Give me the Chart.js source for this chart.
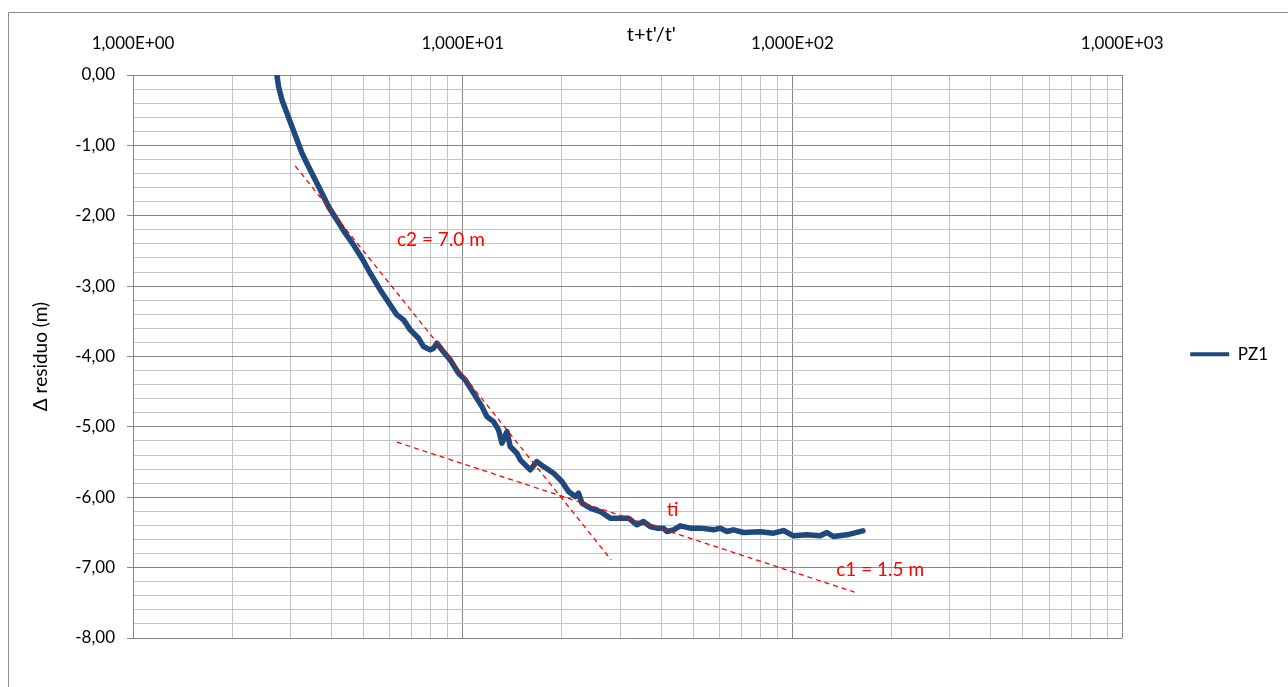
<!DOCTYPE html>
<html>
<head>
<meta charset="utf-8">
<script src="https://cdn.jsdelivr.net/npm/chart.js@4/dist/chart.umd.min.js"></script>
<style>
  html, body { margin: 0; padding: 0; background: #fff; }
  #wrap { position: relative; width: 1288px; height: 687px; }
  canvas { display: block; }
</style>
</head>
<body>
<div id="wrap"><canvas id="c" width="1288" height="687"></canvas></div>
<script>
// ---- data ----
const pz1X = [2.732, 2.764, 2.830, 2.931, 3.035, 3.144, 3.255, 3.409, 3.572, 3.742,
  3.919, 4.155, 4.403, 4.666, 4.947, 5.243, 5.622, 6.029, 6.317, 6.615,
  6.932, 7.343, 7.604, 7.968, 8.154, 8.350, 8.648, 9.165, 9.711, 10.18,
  10.78, 11.44, 11.84, 12.40, 12.84, 13.15, 13.62, 13.93, 14.60, 14.94,
  16.02, 16.79, 17.58, 18.86, 19.99, 20.93, 21.94, 22.45, 22.99, 24.36,
  26.12, 28.01, 30.03, 31.82, 33.75, 35.34, 37.03, 38.80, 40.63, 41.61,
  43.58, 45.66, 48.95, 52.49, 57.62, 60.37, 63.26, 66.24, 71.03, 79.81,
  87.58, 93.91, 100.7, 110.6, 121.3, 127.2, 133.1, 146.2, 163.5];
const pz1Y = [0.000, -0.166, -0.355, -0.544, -0.734, -0.923, -1.112, -1.303, -1.491, -1.680,
  -1.871, -2.060, -2.249, -2.415, -2.604, -2.817, -3.054, -3.267, -3.409, -3.480,
  -3.622, -3.740, -3.859, -3.906, -3.882, -3.811, -3.906, -4.048, -4.237, -4.332,
  -4.521, -4.712, -4.854, -4.925, -5.043, -5.232, -5.067, -5.280, -5.374, -5.469,
  -5.611, -5.493, -5.564, -5.658, -5.777, -5.919, -5.990, -5.942, -6.084, -6.155,
  -6.203, -6.297, -6.297, -6.297, -6.392, -6.345, -6.416, -6.439, -6.439, -6.487,
  -6.463, -6.406, -6.439, -6.439, -6.463, -6.439, -6.487, -6.463, -6.501, -6.491,
  -6.510, -6.473, -6.548, -6.534, -6.548, -6.501, -6.558, -6.534, -6.477];

const c2LineX = [3.105, 28.19];
const c2LineY = [-1.293, -6.889];
const c1LineX = [6.316, 154.2];
const c1LineY = [-5.217, -7.348];

const annoTexts = ['c2 = 7.0 m', 'ti', 'c1 = 1.5 m'];
const annoX = [6.32, 41.6, 135.7];
const annoY = [-2.344, -6.179, -7.031];

const xMajorTicks = [1, 10, 100, 1000];
const xMajorLabels = ['1,000E+00', '1,000E+01', '1,000E+02', '1,000E+03'];
const xMinorTicks = [2, 3, 4, 5, 6, 7, 8, 9, 20, 30, 40, 50, 60, 70, 80, 90,
  200, 300, 400, 500, 600, 700, 800, 900];
const xTitle = "t+t'/t'";
const yTitle = 'Δ residuo (m)';
const seriesName = 'PZ1';

// ---- chart ----
const FONT = 'Lato';
const MAJOR = '#868686';
const MINOR = '#c4c4c4';
const BLUE = '#1F497D';
const RED = '#FF0000';

const toPts = (xs, ys) => xs.map((x, i) => ({ x: x, y: ys[i] }));
const isMajorY = v => Math.abs(v - Math.round(v)) < 1e-6;
const isMajorX = v => xMajorTicks.indexOf(v) >= 0;

const framePlugin = {
  id: 'frame',
  beforeDraw(chart) {
    const ctx = chart.ctx;
    ctx.save();
    ctx.strokeStyle = '#8c8c8c';
    ctx.lineWidth = 1;
    ctx.beginPath();
    ctx.moveTo(8.5, chart.height + 5);
    ctx.lineTo(8.5, 12.5);
    ctx.lineTo(chart.width + 5, 12.5);
    ctx.stroke();
    ctx.restore();
  }
};

const textPlugin = {
  id: 'texts',
  afterDraw(chart) {
    const ctx = chart.ctx;
    const xs = chart.scales.x, ys = chart.scales.y;
    ctx.save();
    ctx.font = '19px ' + FONT;
    ctx.fillStyle = RED;
    ctx.textAlign = 'left';
    ctx.textBaseline = 'middle';
    annoTexts.forEach((t, i) => {
      ctx.fillText(t, xs.getPixelForValue(annoX[i]), ys.getPixelForValue(annoY[i]));
    });
    // axis title on top
    ctx.font = '20px ' + FONT;
    ctx.fillStyle = '#000';
    ctx.textAlign = 'center';
    const ca = chart.chartArea;
    ctx.fillText(xTitle, ca.left + (ca.right - ca.left) * 0.524, 35);
    ctx.restore();
  }
};

new Chart(document.getElementById('c'), {
  type: 'scatter',
  data: {
    datasets: [
      {
        label: seriesName,
        data: toPts(pz1X, pz1Y),
        showLine: true,
        borderColor: BLUE,
        backgroundColor: BLUE,
        borderWidth: 5.5,
        borderJoinStyle: 'round',
        borderCapStyle: 'round',
        pointRadius: 0,
        tension: 0,
        order: 2
      },
      {
        label: 'c2',
        data: toPts(c2LineX, c2LineY),
        showLine: true,
        borderColor: RED,
        borderWidth: 1.3,
        borderDash: [5, 4],
        pointRadius: 0,
        order: 1
      },
      {
        label: 'c1',
        data: toPts(c1LineX, c1LineY),
        showLine: true,
        borderColor: RED,
        borderWidth: 1.3,
        borderDash: [5, 4],
        pointRadius: 0,
        order: 1
      }
    ]
  },
  plugins: [framePlugin, textPlugin],
  options: {
    responsive: false,
    animation: false,
    layout: { padding: { left: 0, top: 0, right: 10, bottom: 49 } },
    plugins: {
      tooltip: { enabled: false },
      legend: {
        position: 'right',
        title: { display: true, text: ' ', font: { size: 12 }, padding: { top: 28, bottom: 28 } },
        labels: {
          font: { family: FONT, size: 17 },
          color: '#000',
          boxWidth: 39,
          boxHeight: 4,
          padding: 68,
          generateLabels: (chart) => Chart.defaults.plugins.legend.labels.generateLabels(chart)
            .filter(it => it.text === seriesName)
            .map(it => Object.assign(it, { lineWidth: 0, fillStyle: BLUE }))
        }
      }
    },
    scales: {
      x: {
        type: 'logarithmic',
        position: 'top',
        min: 1,
        max: 1000,
        afterBuildTicks: (scale) => {
          scale.ticks = xMajorTicks.concat(xMinorTicks).sort((a, b) => a - b).map(v => ({ value: v, major: isMajorX(v) }));
        },
        afterFit: (scale) => { scale.height = 75; },
        ticks: {
          autoSkip: false,
          maxRotation: 0,
          minRotation: 0,
          padding: 21,
          color: '#000',
          font: { family: FONT, size: 17 },
          callback: (v) => { const i = xMajorTicks.indexOf(v); return i >= 0 ? xMajorLabels[i] : ''; }
        },
        grid: {
          drawTicks: false,
          color: (c) => (c.tick && isMajorX(c.tick.value)) ? MAJOR : MINOR,
          lineWidth: 1
        },
        border: { color: MAJOR, width: 1 }
      },
      y: {
        type: 'linear',
        min: -8,
        max: 0,
        afterFit: (scale) => { scale.width = 133; },
        ticks: {
          stepSize: 0.2,
          autoSkip: false,
          padding: 12,
          color: '#000',
          font: { family: FONT, size: 17 },
          callback: (v) => {
            if (!isMajorY(v)) return '';
            const r = Math.round(v);
            return (r === 0 ? 0 : r).toFixed(2).replace('.', ',');
          }
        },
        grid: {
          tickLength: 6,
          color: (c) => (c.tick && isMajorY(c.tick.value)) ? MAJOR : MINOR,
          tickColor: (c) => (c.tick && isMajorY(c.tick.value)) ? MAJOR : 'rgba(0,0,0,0)',
          lineWidth: 1
        },
        border: { color: MAJOR, width: 1 },
        title: {
          display: true,
          text: yTitle,
          color: '#000',
          font: { family: FONT, size: 19 },
          padding: { top: 29, bottom: 0 }
        }
      }
    }
  }
});
</script>
</body>
</html>
